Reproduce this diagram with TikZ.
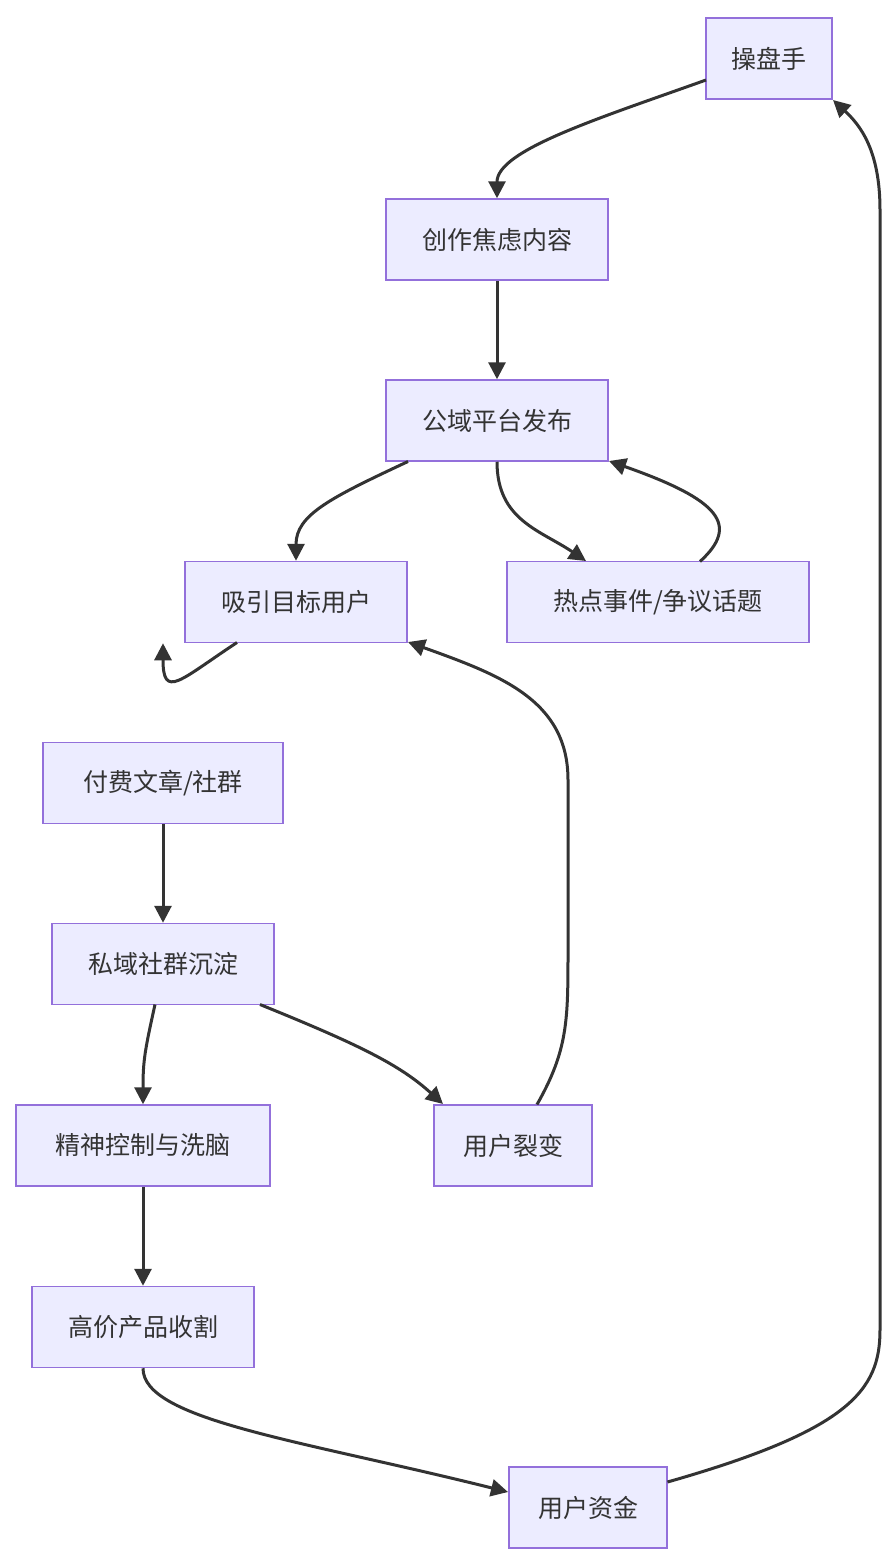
\documentclass[tikz,border=0pt]{standalone}
\usepackage{fontspec}
\setmainfont{Noto Sans CJK SC}
\usetikzlibrary{arrows.meta}
\definecolor{boxfill}{HTML}{ECECFF}
\definecolor{boxline}{HTML}{9370DB}
\definecolor{edge}{HTML}{333333}
\tikzset {
  % flow step
  flow box/.style = {
    draw = boxline,
    fill = boxfill,
    line width = 1.5pt,
    rectangle,
    minimum height = 81pt,
    inner sep = 0,
    font = \fontsize{25}{30}\selectfont,
    text = edge
  },
  % connector
  arr/.style = {
    draw = edge,
    line width = 3pt,
    -{Triangle[length=17pt,width=17pt]}
  }
}

\begin{document}
\begin{tikzpicture}[x=1pt,y=-1pt]
    \useasboundingbox (0,0) rectangle (896,1566);
    \node[flow box, minimum width=126pt] (trader) at (769,58.5) {操盘手};
    \node[flow box, minimum width=222pt] (create) at (497,239.5) {创作焦虑内容};
    \node[flow box, minimum width=222pt] (publish) at (497,420.5) {公域平台发布};
    \node[flow box, minimum width=222pt] (attract) at (296,602) {吸引目标用户};
    \node[flow box, minimum width=302pt] (hot) at (658,602) {热点事件/争议话题};
    \node[flow box, minimum width=240pt] (paid) at (163,783) {付费文章/社群};
    \node[flow box, minimum width=222pt] (private) at (163,964) {私域社群沉淀};
    \node[flow box, minimum width=254pt] (control) at (143,1145.5) {精神控制与洗脑};
    \node[flow box, minimum width=158pt] (fission) at (513,1145.5) {用户裂变};
    \node[flow box, minimum width=222pt] (harvest) at (143,1327) {高价产品收割};
    \node[flow box, minimum width=158pt] (money) at (588,1507.5) {用户资金};

    \draw[arr] (706,80) .. controls (600,118) and (497,150) .. (create.north);
    \draw[arr] (create) -- (publish);
    \draw[arr] (408,461.5) .. controls (330,498) and (296,515) .. (attract.north);
    \draw[arr] (publish.south) .. controls (497,520) and (540,530) .. (586,561);
    \draw[arr] (700,561.5) .. controls (740,525) and (720,500) .. (609,461);
    \draw[arr] (237,642.5) .. controls (180,680) and (163,700) .. (attract.south -| paid.north);
    \draw[arr] (paid) -- (private);
    \draw[arr] (155,1004.5) .. controls (145,1050) and (143,1060) .. (control.north);
    \draw[arr] (260,1004.5) .. controls (360,1045) and (400,1065) .. (443,1104);
    \draw[arr] (537,1104.5) .. controls (568,1050) and (568,1020) .. (568,950)
      -- (568,780) .. controls (568,700) and (500,675) .. (408,642);
    \draw[arr] (control) -- (harvest);
    \draw[arr] (harvest.south) .. controls (143,1420) and (300,1440) .. (508,1492);
    \draw[arr] (667.5,1482) .. controls (850,1430) and (880,1390) .. (880,1330)
      -- (880,210) .. controls (880,150) and (860,125) .. (833,100);
  \end{tikzpicture}
\end{document}
